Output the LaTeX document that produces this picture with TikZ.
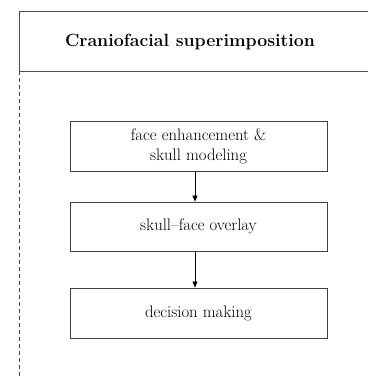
\documentclass[tikz,border=0pt]{standalone}
\usetikzlibrary{arrows.meta}
\begin{document}
\begin{tikzpicture}[x=1pt,y=-1pt,
  stepbox/.style={draw=black!75,line width=0.9pt,minimum width=257pt,minimum height=50pt,align=center,font=\fontsize{16.7}{20}\selectfont,inner sep=0pt},
  conn/.style={draw=black,line width=0.8pt,-{Triangle[length=6pt,width=5pt]}},
  frame/.style={draw=black!70,line width=1pt}]
\useasboundingbox (0,0) rectangle (368,376);
\draw[frame] (368,11) -- (19,11) -- (19,71) -- (368,71);
\draw[frame,dashed,dash pattern=on 4pt off 3pt] (19,71) -- (19,376);
\node[font=\bfseries\fontsize{17.7}{20}\selectfont] (title) at (190,42) {Craniofacial superimposition};
\node[stepbox] (a) at (198.5,146.5) {face enhancement \&\\ skull modeling\hspace{8pt}};
\node[stepbox,minimum height=49pt] (b) at (198.5,226.5) {skull--face overlay};
\node[stepbox] (c) at (198.5,313) {decision making};
\draw[conn] (a.south -| 195,0) -- (b.north -| 195,0);
\draw[conn] (b.south -| 195,0) -- (c.north -| 195,0);
\end{tikzpicture}
\end{document}
